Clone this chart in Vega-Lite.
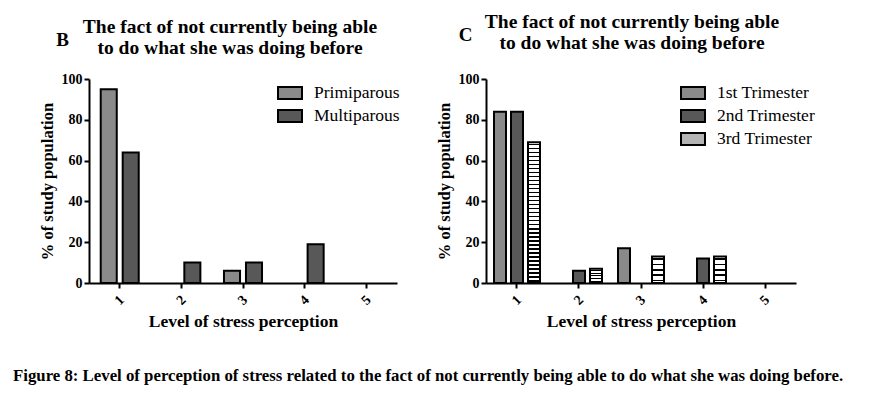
{
  "$schema": "https://vega.github.io/schema/vega-lite/v6.json",
  "background": "white",
  "padding": {"left": 13, "top": 11, "right": 5, "bottom": 5},
  "config": {
    "font": "Liberation Serif",
    "view": {"stroke": null},
    "axis": {"domainColor": "black", "domainWidth": 2, "tickColor": "black", "tickWidth": 2, "tickSize": 5, "labelColor": "black", "labelFont": "Liberation Serif", "labelFontWeight": "bold", "labelFontSize": 14, "titleFont": "Liberation Serif", "titleFontWeight": "bold", "titleFontSize": 16.5, "titleColor": "black", "grid": false},
    "legend": {"symbolType": "M-1,-0.5H1V0.5H-1Z", "symbolSize": 576, "symbolStrokeColor": "black", "symbolStrokeWidth": 2, "symbolOpacity": 1, "labelFont": "Liberation Serif", "labelFontSize": 17.5, "labelColor": "black", "labelOffset": 11, "rowPadding": -1, "padding": 0},
    "title": {"font": "Liberation Serif", "color": "black", "fontWeight": "bold"}
  },
  "title": {"text": "Figure 8: Level of perception of stress related to the fact of not currently being able to do what she was doing before.", "orient": "bottom", "anchor": "start", "fontSize": 16.8, "offset": 38, "dx": -26},
  "spacing": 36,
  "resolve": {"scale": {"x": "independent", "y": "independent", "xOffset": "independent", "fill": "independent"}, "legend": {"fill": "independent"}},
  "hconcat": [
    {
      "width": 308, "height": 204,
      "title": {"text": ["The fact of not currently being able", "to do what she was doing before"], "fontSize": 19.5, "lineHeight": 21, "anchor": "middle", "dx": -13, "offset": -28},
      "data": {"values": [
        {"level": "1", "group": "Primiparous", "value": 95},
        {"level": "2", "group": "Primiparous", "value": 0},
        {"level": "3", "group": "Primiparous", "value": 6},
        {"level": "4", "group": "Primiparous", "value": 0},
        {"level": "5", "group": "Primiparous", "value": 0},
        {"level": "1", "group": "Multiparous", "value": 64},
        {"level": "2", "group": "Multiparous", "value": 10},
        {"level": "3", "group": "Multiparous", "value": 10},
        {"level": "4", "group": "Multiparous", "value": 19},
        {"level": "5", "group": "Multiparous", "value": 0}
      ]},
      "layer": [
        {
          "transform": [{"filter": "datum.value > 0"}],
          "mark": {"type": "bar", "stroke": "black", "strokeWidth": 2},
          "encoding": {
            "x": {"field": "level", "type": "ordinal", "scale": {"domain": ["1", "2", "3", "4", "5"], "paddingInner": 0.383, "paddingOuter": 0.19}, "axis": {"title": "Level of stress perception", "titleFontSize": 17.5, "labelAngle": -45, "labelAlign": "center", "labelBaseline": "middle", "labelPadding": 12, "titlePadding": 5}},
            "xOffset": {"field": "group", "type": "nominal", "sort": ["Primiparous", "Multiparous"], "scale": {"domain": ["Primiparous", "Multiparous"], "paddingInner": 0.27, "paddingOuter": 0}},
            "y": {"field": "value", "type": "quantitative", "scale": {"domain": [0, 100]}, "axis": {"title": "% of study population", "values": [0, 20, 40, 60, 80, 100], "titlePadding": 6}},
            "fill": {"field": "group", "type": "nominal", "sort": ["Primiparous", "Multiparous"], "scale": {"domain": ["Primiparous", "Multiparous"], "range": ["#8a8a8a", "#585858"]}, "legend": {"title": null, "orient": "none", "legendX": 188, "legendY": 1}}
          }
        },
        {
          "mark": {"type": "point", "opacity": 0},
          "encoding": {
            "x": {"field": "level", "type": "ordinal", "axis": {"orient": "top", "title": "B", "labels": false, "ticks": false, "domain": false, "titleX": -27, "titleY": -40, "titleAngle": 0, "titleAlign": "center", "titleBaseline": "middle", "titleFontSize": 19}}
          }
        }
      ],
      "resolve": {"axis": {"x": "independent"}}
    },
    {
      "width": 310, "height": 204,
      "title": {"text": ["The fact of not currently being able", "to do what she was doing before"], "fontSize": 19.5, "lineHeight": 21, "anchor": "middle", "dx": -9, "offset": -28},
      "data": {"values": [
        {"level": "1", "group": "1st Trimester", "value": 84},
        {"level": "2", "group": "1st Trimester", "value": 0},
        {"level": "3", "group": "1st Trimester", "value": 17},
        {"level": "4", "group": "1st Trimester", "value": 0},
        {"level": "5", "group": "1st Trimester", "value": 0},
        {"level": "1", "group": "2nd Trimester", "value": 84},
        {"level": "2", "group": "2nd Trimester", "value": 6},
        {"level": "3", "group": "2nd Trimester", "value": 0},
        {"level": "4", "group": "2nd Trimester", "value": 12},
        {"level": "5", "group": "2nd Trimester", "value": 0},
        {"level": "1", "group": "3rd Trimester", "value": 69},
        {"level": "2", "group": "3rd Trimester", "value": 7},
        {"level": "3", "group": "3rd Trimester", "value": 13},
        {"level": "4", "group": "3rd Trimester", "value": 13},
        {"level": "5", "group": "3rd Trimester", "value": 0}
      ]},
      "layer": [
        {
          "transform": [{"filter": "datum.value > 0"}],
          "mark": {"type": "bar", "stroke": "black", "strokeWidth": 2},
          "encoding": {
            "x": {"field": "level", "type": "ordinal", "scale": {"domain": ["1", "2", "3", "4", "5"], "paddingInner": 0.258, "paddingOuter": 0.129}, "axis": {"title": "Level of stress perception", "titleFontSize": 17.5, "labelAngle": -45, "labelAlign": "center", "labelBaseline": "middle", "labelPadding": 12, "titlePadding": 5}},
            "xOffset": {"field": "group", "type": "nominal", "sort": ["1st Trimester", "2nd Trimester", "3rd Trimester"], "scale": {"domain": ["1st Trimester", "2nd Trimester", "3rd Trimester"], "paddingInner": 0.294, "paddingOuter": 0}},
            "y": {"field": "value", "type": "quantitative", "scale": {"domain": [0, 100]}, "axis": {"title": "% of study population", "values": [0, 20, 40, 60, 80, 100], "titlePadding": 6}},
            "fill": {"field": "group", "type": "nominal", "sort": ["1st Trimester", "2nd Trimester", "3rd Trimester"], "scale": {"domain": ["1st Trimester", "2nd Trimester", "3rd Trimester"], "range": ["#8a8a8a", "#585858", "#b4b4b4"]}, "legend": {"title": null, "orient": "none", "legendX": 194, "legendY": 1},
              "condition": [
                {"test": "datum.group === '3rd Trimester' && datum.value > 20", "value": {"gradient": "linear", "x1": 0, "y1": 0, "x2": 0, "y2": 1, "stops": [
                  {"offset": 0, "color": "white"},
                  {"offset": 0.0100, "color": "white"}, {"offset": 0.0100, "color": "black"}, {"offset": 0.0200, "color": "black"}, {"offset": 0.0200, "color": "white"},
                  {"offset": 0.0386, "color": "white"}, {"offset": 0.0386, "color": "black"}, {"offset": 0.0486, "color": "black"}, {"offset": 0.0486, "color": "white"},
                  {"offset": 0.0671, "color": "white"}, {"offset": 0.0671, "color": "black"}, {"offset": 0.0771, "color": "black"}, {"offset": 0.0771, "color": "white"},
                  {"offset": 0.0957, "color": "white"}, {"offset": 0.0957, "color": "black"}, {"offset": 0.1057, "color": "black"}, {"offset": 0.1057, "color": "white"},
                  {"offset": 0.1243, "color": "white"}, {"offset": 0.1243, "color": "black"}, {"offset": 0.1343, "color": "black"}, {"offset": 0.1343, "color": "white"},
                  {"offset": 0.1529, "color": "white"}, {"offset": 0.1529, "color": "black"}, {"offset": 0.1629, "color": "black"}, {"offset": 0.1629, "color": "white"},
                  {"offset": 0.1814, "color": "white"}, {"offset": 0.1814, "color": "black"}, {"offset": 0.1914, "color": "black"}, {"offset": 0.1914, "color": "white"},
                  {"offset": 0.2100, "color": "white"}, {"offset": 0.2100, "color": "black"}, {"offset": 0.2200, "color": "black"}, {"offset": 0.2200, "color": "white"},
                  {"offset": 0.2386, "color": "white"}, {"offset": 0.2386, "color": "black"}, {"offset": 0.2486, "color": "black"}, {"offset": 0.2486, "color": "white"},
                  {"offset": 0.2671, "color": "white"}, {"offset": 0.2671, "color": "black"}, {"offset": 0.2771, "color": "black"}, {"offset": 0.2771, "color": "white"},
                  {"offset": 0.2957, "color": "white"}, {"offset": 0.2957, "color": "black"}, {"offset": 0.3057, "color": "black"}, {"offset": 0.3057, "color": "white"},
                  {"offset": 0.3243, "color": "white"}, {"offset": 0.3243, "color": "black"}, {"offset": 0.3343, "color": "black"}, {"offset": 0.3343, "color": "white"},
                  {"offset": 0.3529, "color": "white"}, {"offset": 0.3529, "color": "black"}, {"offset": 0.3629, "color": "black"}, {"offset": 0.3629, "color": "white"},
                  {"offset": 0.3814, "color": "white"}, {"offset": 0.3814, "color": "black"}, {"offset": 0.3914, "color": "black"}, {"offset": 0.3914, "color": "white"},
                  {"offset": 0.4100, "color": "white"}, {"offset": 0.4100, "color": "black"}, {"offset": 0.4200, "color": "black"}, {"offset": 0.4200, "color": "white"},
                  {"offset": 0.4386, "color": "white"}, {"offset": 0.4386, "color": "black"}, {"offset": 0.4486, "color": "black"}, {"offset": 0.4486, "color": "white"},
                  {"offset": 0.4671, "color": "white"}, {"offset": 0.4671, "color": "black"}, {"offset": 0.4771, "color": "black"}, {"offset": 0.4771, "color": "white"},
                  {"offset": 0.4957, "color": "white"}, {"offset": 0.4957, "color": "black"}, {"offset": 0.5057, "color": "black"}, {"offset": 0.5057, "color": "white"},
                  {"offset": 0.5243, "color": "white"}, {"offset": 0.5243, "color": "black"}, {"offset": 0.5343, "color": "black"}, {"offset": 0.5343, "color": "white"},
                  {"offset": 0.5529, "color": "white"}, {"offset": 0.5529, "color": "black"}, {"offset": 0.5629, "color": "black"}, {"offset": 0.5629, "color": "white"},
                  {"offset": 0.5814, "color": "white"}, {"offset": 0.5814, "color": "black"}, {"offset": 0.5914, "color": "black"}, {"offset": 0.5914, "color": "white"},
                  {"offset": 0.6100, "color": "white"}, {"offset": 0.6100, "color": "black"}, {"offset": 0.6200, "color": "black"}, {"offset": 0.6200, "color": "white"},
                  {"offset": 0.6386, "color": "white"}, {"offset": 0.6386, "color": "black"}, {"offset": 0.6486, "color": "black"}, {"offset": 0.6486, "color": "white"},
                  {"offset": 0.6671, "color": "white"}, {"offset": 0.6671, "color": "black"}, {"offset": 0.6771, "color": "black"}, {"offset": 0.6771, "color": "white"},
                  {"offset": 0.6957, "color": "white"}, {"offset": 0.6957, "color": "black"}, {"offset": 0.7057, "color": "black"}, {"offset": 0.7057, "color": "white"},
                  {"offset": 0.7243, "color": "white"}, {"offset": 0.7243, "color": "black"}, {"offset": 0.7343, "color": "black"}, {"offset": 0.7343, "color": "white"},
                  {"offset": 0.7529, "color": "white"}, {"offset": 0.7529, "color": "black"}, {"offset": 0.7629, "color": "black"}, {"offset": 0.7629, "color": "white"},
                  {"offset": 0.7814, "color": "white"}, {"offset": 0.7814, "color": "black"}, {"offset": 0.7914, "color": "black"}, {"offset": 0.7914, "color": "white"},
                  {"offset": 0.8100, "color": "white"}, {"offset": 0.8100, "color": "black"}, {"offset": 0.8200, "color": "black"}, {"offset": 0.8200, "color": "white"},
                  {"offset": 0.8386, "color": "white"}, {"offset": 0.8386, "color": "black"}, {"offset": 0.8486, "color": "black"}, {"offset": 0.8486, "color": "white"},
                  {"offset": 0.8671, "color": "white"}, {"offset": 0.8671, "color": "black"}, {"offset": 0.8771, "color": "black"}, {"offset": 0.8771, "color": "white"},
                  {"offset": 0.8957, "color": "white"}, {"offset": 0.8957, "color": "black"}, {"offset": 0.9057, "color": "black"}, {"offset": 0.9057, "color": "white"},
                  {"offset": 0.9243, "color": "white"}, {"offset": 0.9243, "color": "black"}, {"offset": 0.9343, "color": "black"}, {"offset": 0.9343, "color": "white"},
                  {"offset": 0.9529, "color": "white"}, {"offset": 0.9529, "color": "black"}, {"offset": 0.9629, "color": "black"}, {"offset": 0.9629, "color": "white"},
                  {"offset": 0.9814, "color": "white"}, {"offset": 0.9814, "color": "black"}, {"offset": 0.9914, "color": "black"}, {"offset": 0.9914, "color": "white"},
                  {"offset": 1, "color": "white"}
                ]}},
                {"test": "datum.group === '3rd Trimester'", "value": {"gradient": "linear", "x1": 0, "y1": 0, "x2": 0, "y2": 1, "stops": [
                  {"offset": 0, "color": "white"},
                  {"offset": 0.07, "color": "white"}, {"offset": 0.07, "color": "black"}, {"offset": 0.14, "color": "black"}, {"offset": 0.14, "color": "white"},
                  {"offset": 0.27, "color": "white"}, {"offset": 0.27, "color": "black"}, {"offset": 0.34, "color": "black"}, {"offset": 0.34, "color": "white"},
                  {"offset": 0.47, "color": "white"}, {"offset": 0.47, "color": "black"}, {"offset": 0.54, "color": "black"}, {"offset": 0.54, "color": "white"},
                  {"offset": 0.67, "color": "white"}, {"offset": 0.67, "color": "black"}, {"offset": 0.74, "color": "black"}, {"offset": 0.74, "color": "white"},
                  {"offset": 0.87, "color": "white"}, {"offset": 0.87, "color": "black"}, {"offset": 0.94, "color": "black"}, {"offset": 0.94, "color": "white"},
                  {"offset": 1, "color": "white"}
                ]}}
              ]}
          }
        },
        {
          "mark": {"type": "point", "opacity": 0},
          "encoding": {
            "x": {"field": "level", "type": "ordinal", "axis": {"orient": "top", "title": "C", "labels": false, "ticks": false, "domain": false, "titleX": -21, "titleY": -45, "titleAngle": 0, "titleAlign": "center", "titleBaseline": "middle", "titleFontSize": 19}}
          }
        }
      ],
      "resolve": {"axis": {"x": "independent"}}
    }
  ]
}
